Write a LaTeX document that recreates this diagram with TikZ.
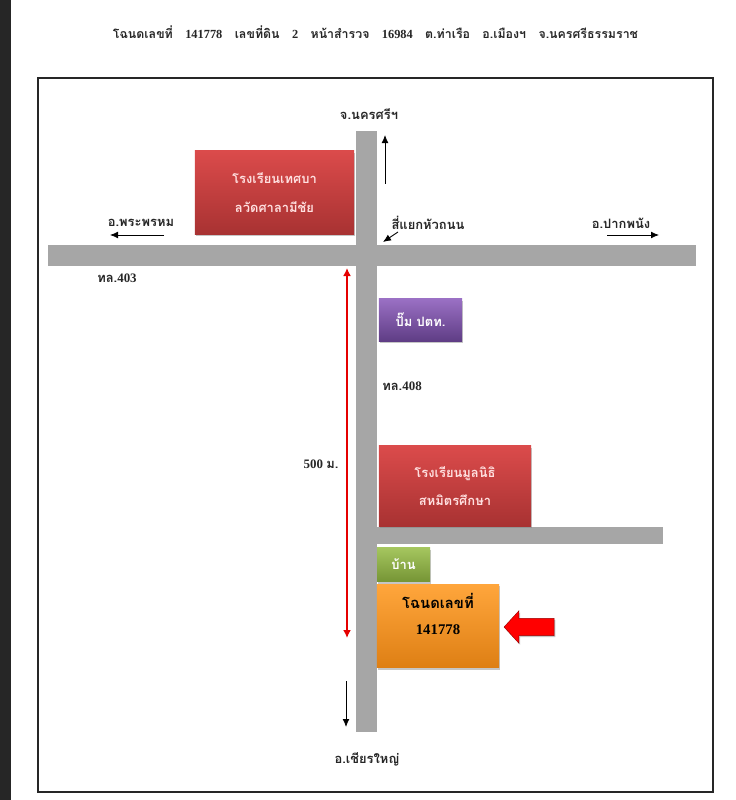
\documentclass[tikz,border=0pt]{standalone}
\usepackage{fontspec}
\setmainfont{Liberation Serif}
\newfontfamily\thaifont[Script=Thai]{Loma}
\newcommand{\thtext}[1]{{\thaifont #1}}
\usetikzlibrary{arrows.meta,shadows,shapes.arrows}
\definecolor{roadgray}{HTML}{A6A6A6}
\definecolor{edgedark}{HTML}{262626}
\definecolor{redtop}{HTML}{DB4B4B}
\definecolor{redmid}{HTML}{C93D3D}
\definecolor{redlow}{HTML}{A83232}
\definecolor{purptop}{HTML}{9A70C4}
\definecolor{purpmid}{HTML}{7A50A3}
\definecolor{purplow}{HTML}{5F3D85}
\definecolor{greentop}{HTML}{A5C65F}
\definecolor{greenmid}{HTML}{8DB043}
\definecolor{greenlow}{HTML}{769535}
\definecolor{orantop}{HTML}{FFA63C}
\definecolor{oranmid}{HTML}{FB9424}
\definecolor{oranlow}{HTML}{DE7F14}
\tikzset{
  road/.style={fill=roadgray, draw=none},
  note/.style={font=\bfseries\fontsize{9.2}{10}\selectfont, text=black!85, inner sep=0pt},
  place/.style={draw=none, drop shadow={shadow xshift=0.2mm, shadow yshift=-0.5mm, opacity=0.45},
    inner sep=0pt, align=center, font=\bfseries\fontsize{9.2}{20.5}\selectfont},
  redplace/.style={place, top color=redtop, middle color=redmid, bottom color=redlow, text=white!88!red},
  way/.style={-{Latex[length=0.2cm,width=0.17cm]}, black, line width=0.6pt},
}
\begin{document}
\begin{tikzpicture}[x=0.025cm, y=-0.025cm]
  \useasboundingbox (0,0) rectangle (735,800);
  % Dark page edge and frame
  \fill[edgedark] (0,0) rectangle (11,800);
  \draw[line width=1pt, edgedark] (38,78) rectangle (713,792);

  % Title
  \node[note, font=\bfseries\fontsize{8.8}{10}\selectfont] (title) at (375.5,32)
    {\thtext{โฉนดเลขที่}\quad 141778\quad \thtext{เลขที่ดิน}\quad 2\quad \thtext{หน้าสำรวจ}\quad 16984\quad \thtext{ต.ท่าเรือ}\quad \thtext{อ.เมืองฯ}\quad \thtext{จ.นครศรีธรรมราช}};

  % Roads
  \fill[road] (48,245) rectangle (696,266);
  \fill[road] (356,131) rectangle (377,732);
  \fill[road] (377,527) rectangle (663,544);

  % Places
  \node[redplace, minimum width=3.975cm, minimum height=2.09cm] (school1) at (274.5,192.5)
    {\thtext{โรงเรียนเทศบา}\\\thtext{ลวัดศาลามีชัย}};
  \node[redplace, minimum width=3.8cm, minimum height=2.01cm] (school2) at (455,486)
    {\thtext{โรงเรียนมูลนิธิ}\\\thtext{สหมิตรศึกษา}};
  \node[place, top color=purptop, middle color=purpmid, bottom color=purplow, text=white,
    minimum width=2.075cm, minimum height=1.06cm] (ptt) at (420.5,320) {\thtext{ปั๊ม ปตท.}};
  \node[place, top color=greentop, middle color=greenmid, bottom color=greenlow, text=white,
    minimum width=1.325cm, minimum height=0.85cm] (house) at (403.5,564.5) {\thtext{บ้าน}};
  \node[place, top color=orantop, middle color=oranmid, bottom color=oranlow, text=black, text depth=0.6cm,
    minimum width=3.05cm, minimum height=2.08cm, font=\bfseries\fontsize{10.5}{18.5}\selectfont] (deed) at (438,626)
    {\thtext{โฉนดเลขที่}\\141778};
  \node[single arrow, shape border rotate=180, draw=red!60!black, fill=red, line width=0.3pt,
    minimum width=0.8cm, minimum height=1.25cm, single arrow head extend=0.19cm, single arrow tip angle=95,
    inner sep=0.21cm, drop shadow={shadow xshift=0.3mm, shadow yshift=-0.4mm, opacity=0.45}] (mark) at (533,627) {};

  % Labels
  \node[note] (north) at (369,114) {\thtext{จ.นครศรีฯ}};
  \node[note] (west) at (141,223) {\thtext{อ.พระพรหม}};
  \node[note] (cross) at (428,223) {\thtext{สี่แยกหัวถนน}};
  \node[note] (east) at (621,223) {\thtext{อ.ปากพนัง}};
  \node[note] (r403) at (117,278) {\thtext{ทล.}403};
  \node[note] (r408) at (402,386) {\thtext{ทล.}408};
  \node[note] (dist) at (321,464) {500 \thtext{ม.}};
  \node[note] (south) at (367,759) {\thtext{อ.เชียรใหญ่}};

  % Direction arrows
  \coordinate (na) at (385,184);   \coordinate (nb) at (385,135);
  \coordinate (wa) at (164,235);   \coordinate (wb) at (110,235);
  \coordinate (ea) at (607,235);   \coordinate (eb) at (659,235);
  \coordinate (ca) at (398,232);   \coordinate (cb) at (383,242);
  \coordinate (sa) at (346,681);   \coordinate (sb) at (346,727);
  \coordinate (da) at (347,268);   \coordinate (db) at (347,638);
  \draw[way] (na) -- (nb);
  \draw[way] (wa) -- (wb);
  \draw[way] (ea) -- (eb);
  \draw[way] (ca) -- (cb);
  \draw[way] (sa) -- (sb);
  \draw[{Latex[length=0.2cm,width=0.2cm]}-{Latex[length=0.2cm,width=0.2cm]}, red!90!black, line width=1.2pt] (da) -- (db);
\end{tikzpicture}
\end{document}
